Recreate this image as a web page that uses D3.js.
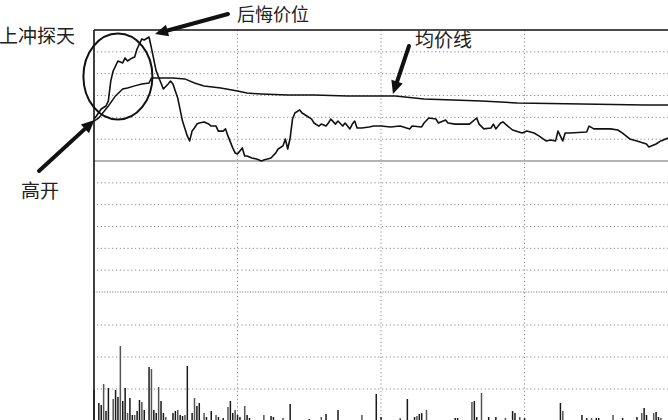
<!DOCTYPE html>
<html><head><meta charset="utf-8">
<script src="https://cdn.jsdelivr.net/npm/d3@7"></script>
<style>
html,body{margin:0;padding:0;background:#fff;overflow:hidden;}
svg{display:block;}
</style></head>
<body>
<svg id="chart" width="668" height="420"></svg>
<script>
// ---- data (percent change vs previous close, minutes from open) ----
const priceMinutes = [0,1,3,5,6,7,8,10,12,13,14,16,17,18,20,21,23,24,26,28,29,31,32,33,35,37,39,40,41,42,43,44,46,48,49,51,52,54,55,56,58,59,60,62,63,64,66,68,70,71,74,76,77,79,80,81,82,83,84,86,87,89,91,92,94,95,97,98,99,101,102,104,105,107,108,109,110,112,115,117,120,124,128,132,133,137,138,140,143,144,147,148,151,157,160,161,163,166,167,168,170,171,173,175,179,181,184,186,189,191,193,194,196,197,199,206,207,209,216,219,221,224,227,231,232,235,237,240];
const priceValues  = [1.92,2.06,2.38,2.52,2.75,3.66,4.12,4.58,4.49,4.72,4.58,4.72,4.76,5.13,5.59,5.54,5.68,5.18,4.12,3.57,3.30,3.53,3.66,3.53,2.89,1.83,1.15,0.92,1.37,1.51,1.69,1.74,1.79,1.69,1.60,1.60,1.37,1.37,1.47,1.15,0.60,0.37,0.32,0.60,0.23,0.23,0.14,0.09,0.00,0.05,0.14,0.37,0.55,0.69,1.01,0.55,1.05,1.92,2.20,2.34,2.20,2.06,1.92,1.74,1.60,1.69,1.60,1.74,1.92,1.69,1.83,1.60,1.74,1.47,1.69,1.83,1.51,1.51,1.56,1.60,1.60,1.56,1.60,1.47,1.60,1.56,1.74,1.97,1.92,1.74,1.88,1.74,1.69,1.69,1.97,1.69,1.47,1.51,1.69,1.47,1.74,1.79,1.60,1.42,1.28,1.37,1.28,1.15,0.92,0.96,0.92,1.37,0.92,1.28,1.28,1.33,1.60,1.47,1.47,1.42,1.28,1.01,0.92,0.78,0.64,0.78,0.92,1.05];
const avgMinutes = [0,2,6,9,12,14,17,20,23,24,27,33,38,42,46,53,60,64,70,81,92,106,120,126,138,162,177,204,230,240];
const avgValues  = [1.83,1.97,2.52,2.98,3.30,3.34,3.44,3.53,3.57,3.80,3.80,3.80,3.76,3.57,3.44,3.34,3.21,3.11,3.07,3.02,3.02,2.98,2.98,2.98,2.84,2.75,2.66,2.61,2.57,2.57];
const volMinutes = [0,2,3,4,5,6,8,9,10,11,12,13,14,15,16,17,18,19,20,21,23,24,25,26,27,28,29,30,33,34,35,36,37,38,39,41,42,43,44,46,47,49,51,52,54,56,57,58,59,60,61,63,64,65,71,74,75,79,82,90,95,97,102,112,118,120,128,131,134,135,136,137,139,151,152,158,159,160,162,165,168,172,175,176,178,180,195,196,204,206,208,210,211,217,221,227,229,230,231,234,235,236,237];
const volValues  = [775,450,400,925,250,825,550,775,600,1875,500,825,200,575,150,150,250,525,475,275,1350,1300,275,200,850,500,200,100,200,250,275,150,125,150,1375,200,575,375,450,200,100,250,150,100,75,350,500,200,275,150,100,375,150,75,150,125,100,75,425,50,100,175,275,150,675,100,75,550,100,125,175,200,275,75,75,475,500,100,700,100,100,75,250,200,100,75,450,250,150,75,75,75,75,150,75,100,200,325,150,200,225,100,75];
const priceTicks = [-5,-4,-3,-2,-1,1,2,3,4,5];
const volTicks = [800,1600,2400];
const timeTicks = [60,120,180];
const labels = {rise:"上冲探天", regret:"后悔价位", avg:"均价线", open:"高开"};

// ---- layout ----
const svg = d3.select("#chart");
const L = 94, R = 668, T = 30, MID = 292, B = 421;
const x = d3.scaleLinear().domain([0,240]).range([L,R]);
const y = d3.scaleLinear().domain([-6,6]).range([MID,T]);
const yv = d3.scaleLinear().domain([0,3200]).range([B,MID+1]);

// grid
const g = svg.append("g");
g.selectAll(".hp").data(priceTicks).join("line")
  .attr("x1",L+3).attr("x2",R).attr("y1",d=>y(d)).attr("y2",d=>y(d))
  .attr("stroke","#8a8a8a").attr("stroke-width",1).attr("stroke-dasharray","1.2,2.6");
g.selectAll(".hv").data(volTicks).join("line")
  .attr("x1",L+3).attr("x2",R).attr("y1",d=>yv(d)).attr("y2",d=>yv(d))
  .attr("stroke","#8a8a8a").attr("stroke-width",1).attr("stroke-dasharray","1.2,2.6");
// panel separator
g.append("line").attr("x1",L).attr("x2",R).attr("y1",MID).attr("y2",MID)
  .attr("stroke","#666").attr("stroke-width",1).attr("stroke-dasharray","1,1.6");
g.selectAll(".vt").data(timeTicks).join("line")
  .attr("x1",d=>x(d)).attr("x2",d=>x(d)).attr("y1",T).attr("y2",B)
  .attr("stroke","#8a8a8a").attr("stroke-width",1).attr("stroke-dasharray","1.2,2.6");
// previous close line
g.append("line").attr("x1",L).attr("x2",R).attr("y1",y(0)).attr("y2",y(0))
  .attr("stroke","#9a9a9a").attr("stroke-width",1.6);

// volume bars
svg.append("g").selectAll("rect").data(volMinutes).join("rect")
  .attr("x",(d)=>x(d)-0.7).attr("width",1.5)
  .attr("y",(d,i)=>yv(volValues[i])).attr("height",(d,i)=>B-yv(volValues[i]))
  .attr("fill",(d,i)=> i%3===0 ? "#555" : "#1a1a1a");

// lines
const line = d3.line().x(d=>x(d[0])).y(d=>y(d[1]));
svg.append("path").datum(avgMinutes.map((m,i)=>[m,avgValues[i]]))
  .attr("d",line).attr("fill","none").attr("stroke","#111").attr("stroke-width",1.5);
svg.append("path").datum(priceMinutes.map((m,i)=>[m,priceValues[i]]))
  .attr("d",line).attr("fill","none").attr("stroke","#111").attr("stroke-width",1.6)
  .attr("stroke-linejoin","round");

// frame
svg.append("line").attr("x1",L).attr("x2",R).attr("y1",T).attr("y2",T).attr("stroke","#111").attr("stroke-width",1.6);
svg.append("line").attr("x1",L).attr("x2",L).attr("y1",T).attr("y2",B).attr("stroke","#111").attr("stroke-width",1.6);

// annotations
const ann = svg.append("g");
ann.append("ellipse").attr("cx",x(10)).attr("cy",y(3.87)).attr("rx",34.5).attr("ry",43)
  .attr("fill","none").attr("stroke","#111").attr("stroke-width",2);

function arrow(x1,y1,x2,y2){
  const a = Math.atan2(y2-y1,x2-x1), hl = 13, hw = 6;
  const bx = x2 - hl*Math.cos(a), by = y2 - hl*Math.sin(a);
  ann.append("line").attr("x1",x1).attr("y1",y1).attr("x2",bx).attr("y2",by)
    .attr("stroke","#111").attr("stroke-width",4).attr("stroke-linecap","round");
  const p = [[x2,y2],[bx+hw*Math.sin(a),by-hw*Math.cos(a)],[bx-hw*Math.sin(a),by+hw*Math.cos(a)]];
  ann.append("polygon").attr("points",p.map(d=>d.join(",")).join(" ")).attr("fill","#111");
}
// 后悔价位 -> peak
arrow(228,14, x(23)+6, y(5.68)-3);
// 均价线 -> average line
arrow(409,46, x(125), y(2.98)-2);
// 高开 -> open
arrow(39,171, x(0)+0.5, y(priceValues[0])+1);

const font = "'Noto Sans CJK SC', sans-serif";
function txt(t,xx,yy,fs){
  ann.append("text").attr("x",xx).attr("y",yy).text(t)
    .attr("font-family",font).attr("font-size",fs||19).attr("fill","#222");
}
txt(labels.rise,-1,43);
txt(labels.regret,237,21,18);
txt(labels.avg,415,47);
txt(labels.open,21,198);
</script>
</body></html>
